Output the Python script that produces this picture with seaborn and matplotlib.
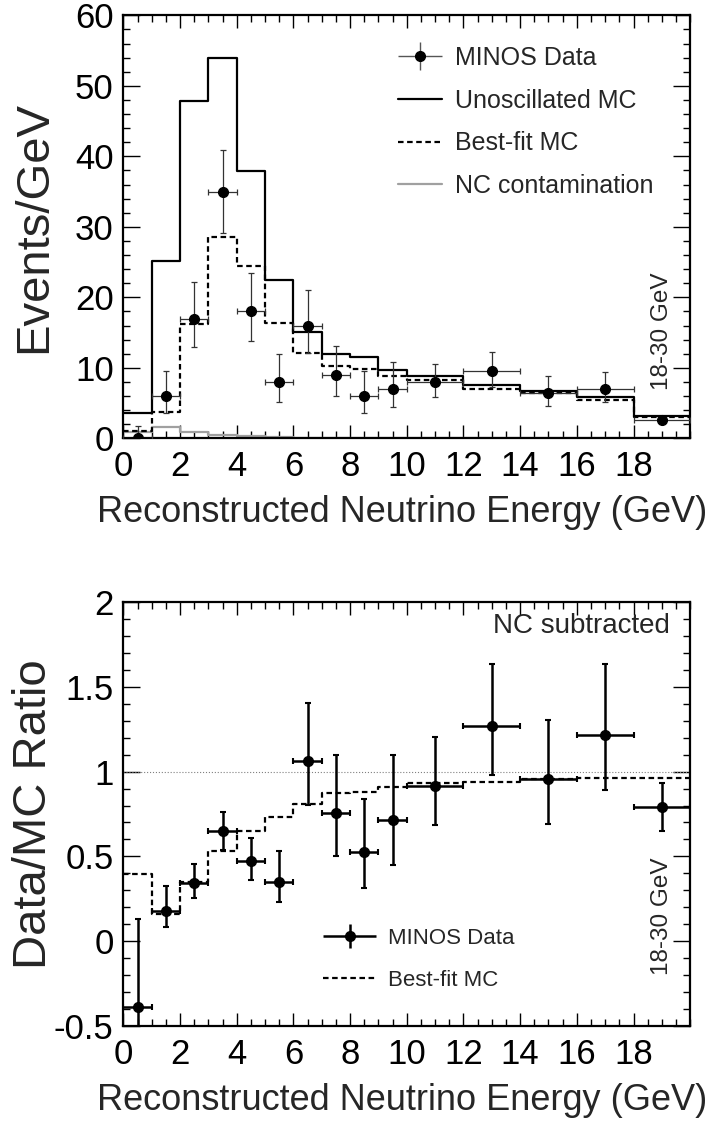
import matplotlib
matplotlib.use("Agg")
import matplotlib.pyplot as plt
from matplotlib.container import ErrorbarContainer
from matplotlib.legend_handler import HandlerErrorbar
from matplotlib.ticker import FixedLocator, MultipleLocator, FuncFormatter
import numpy as np
import seaborn as sns

# Binning (last bin is 18-30 GeV, drawn as 18-20)
bin_edges = [0, 1, 2, 3, 4, 5, 6, 7, 8, 9, 10, 12, 14, 16, 18, 20]

# Top panel: events / GeV
unosc_mc = [3.6, 25.2, 47.9, 53.9, 37.9, 22.4, 15.1, 12.0, 11.5, 9.7, 8.8, 7.5, 6.7, 5.8, 3.2]
bestfit_mc = [1.0, 3.8, 16.2, 28.5, 24.4, 16.4, 12.1, 10.2, 9.9, 8.8, 8.3, 7.0, 6.4, 5.5, 3.0]
nc_contam = [0.9, 1.6, 0.9, 0.5, 0.3, 0.25, 0.1, 0.1, 0.1, 0.1, 0.1, 0.1, 0.1, 0.1, 0.1]
data_y = [0.0, 6.0, 17.0, 35.0, 18.0, 8.0, 16.0, 9.0, 6.0, 7.0, 8.0, 9.5, 6.5, 7.0, 2.6]
data_up = [1.8, 3.6, 5.2, 5.9, 5.4, 3.9, 5.1, 4.1, 3.6, 3.8, 2.5, 2.7, 2.4, 2.4, 0.45]
data_lo = [0.0, 2.4, 4.1, 5.8, 4.2, 2.8, 3.9, 3.0, 2.4, 2.6, 2.1, 2.2, 1.9, 1.9, 0.45]

# Bottom panel: Data / MC ratio (NC subtracted)
ratio_y = [-0.39, 0.18, 0.345, 0.65, 0.47, 0.35, 1.065, 0.755, 0.525, 0.715, 0.915, 1.27, 0.955, 1.215, 0.79]
ratio_up = [0.52, 0.145, 0.11, 0.11, 0.14, 0.18, 0.34, 0.345, 0.315, 0.385, 0.29, 0.365, 0.35, 0.42, 0.14]
ratio_lo = [0.52, 0.095, 0.09, 0.11, 0.11, 0.12, 0.26, 0.25, 0.21, 0.265, 0.23, 0.29, 0.265, 0.325, 0.14]
bestfit_ratio = [0.396, 0.163, 0.347, 0.533, 0.652, 0.732, 0.807, 0.872, 0.882, 0.908, 0.935, 0.941, 0.957, 0.965, 0.965]

sns.set_theme(style="ticks")
plt.rcParams["font.family"] = ["Liberation Sans", "DejaVu Sans"]
plt.rcParams["axes.unicode_minus"] = False

edges = np.array(bin_edges, dtype=float)
half = np.diff(edges) / 2
centers = edges[:-1] + half
DASH = (0, (2.5, 1.6))


def steps(vals):
    return np.append(vals, vals[-1])


def root_style(ax, ymaj, ymin):
    ax.set_xlim(0, 20)
    ax.xaxis.set_major_locator(FixedLocator(list(range(0, 19, 2))))
    ax.xaxis.set_minor_locator(MultipleLocator(0.5))
    ax.yaxis.set_major_locator(MultipleLocator(ymaj))
    ax.yaxis.set_minor_locator(MultipleLocator(ymin))
    ax.yaxis.set_major_formatter(FuncFormatter(lambda v, p: f"{v:g}"))
    ax.tick_params(which="both", direction="in", top=True, right=True,
                   width=1.0, color="black", labelcolor="black")
    ax.tick_params(axis="y", which="major", length=12, labelsize=25, pad=7)
    ax.tick_params(axis="y", which="minor", length=5)
    ax.tick_params(axis="x", which="major", length=9.5, labelsize=25, pad=8.5)
    ax.tick_params(axis="x", which="minor", length=5)
    for s in ax.spines.values():
        s.set_linewidth(1.6)
        s.set_color("black")
    ax.grid(False)


def legend_errorbar(ax, ecolor, elw):
    # proxy without caps, only used for the legend entry
    return ax.errorbar([np.nan], [np.nan], xerr=[1], yerr=[1], fmt="o", color="black",
                       ecolor=ecolor, ms=7, elinewidth=elw, capsize=0)


fig = plt.figure(figsize=(7.13, 11.24), dpi=100)
ax1 = fig.add_axes([0.173, 0.610, 0.795, 0.3763])
ax2 = fig.add_axes([0.173, 0.0872, 0.795, 0.3772])

# ---------------- top panel ----------------
sns.lineplot(x=edges, y=steps(nc_contam), drawstyle="steps-post", color="#a0a0a0",
             lw=1.6, estimator=None, sort=False, ax=ax1)
sns.lineplot(x=edges, y=steps(unosc_mc), drawstyle="steps-post", color="black",
             lw=1.6, estimator=None, sort=False, ax=ax1)
sns.lineplot(x=edges, y=steps(bestfit_mc), drawstyle="steps-post", color="black",
             lw=1.6, ls=DASH, estimator=None, sort=False, ax=ax1)
ax1.errorbar(centers, data_y, xerr=half, yerr=[data_lo, data_up], fmt="o",
             color="black", ecolor="#333333", ms=7, elinewidth=0.9,
             capsize=2, capthick=0.9, zorder=5)
h_data = legend_errorbar(ax1, "#555555", 1.0)
h_unosc = plt.Line2D([], [], color="black", lw=1.6)
h_best = plt.Line2D([], [], color="black", lw=1.6, ls=DASH)
h_nc = plt.Line2D([], [], color="#a0a0a0", lw=1.6)
ax1.legend([h_data, h_unosc, h_best, h_nc],
           ["MINOS Data", "Unoscillated MC", "Best-fit MC", "NC contamination"],
           handler_map={ErrorbarContainer: HandlerErrorbar(xerr_size=0.88, yerr_size=0.56)},
           loc="center left", bbox_to_anchor=(0.485, 0.748), frameon=False,
           fontsize=18, handlelength=1.76, handletextpad=0.52, labelspacing=0.75,
           borderpad=0, borderaxespad=0)
ax1.set_ylim(0, 60)
root_style(ax1, 10, 2)
ax1.text(19.0, 15.2, "18-30 GeV", rotation=90, ha="center", va="center", fontsize=17.5)
ax1.set_ylabel("Events/GeV", fontsize=34)
ax1.yaxis.set_label_coords(-0.118, 0.5)
ax1.set_xlabel("Reconstructed Neutrino Energy (GeV)", fontsize=26)
ax1.xaxis.set_label_coords(0.492, -0.1336)

# ---------------- bottom panel ----------------
ax2.axhline(1, color="0.5", lw=0.8, ls=":")
sns.lineplot(x=edges, y=steps(bestfit_ratio), drawstyle="steps-post", color="black",
             lw=1.6, ls=DASH, estimator=None, sort=False, ax=ax2)
ax2.errorbar(centers, ratio_y, xerr=half, yerr=[ratio_lo, ratio_up], fmt="o",
             color="black", ms=7, elinewidth=1.8, capsize=2, capthick=1.5, zorder=5)
h_rdata = legend_errorbar(ax2, "black", 1.8)
ax2.legend([h_rdata, h_best], ["MINOS Data", "Best-fit MC"],
           handler_map={ErrorbarContainer: HandlerErrorbar(xerr_size=1.2, yerr_size=0.53)},
           loc="center left", bbox_to_anchor=(0.352, 0.157), frameon=False,
           fontsize=16, handlelength=2.4, handletextpad=0.55, labelspacing=0.95,
           borderpad=0, borderaxespad=0)
ax2.set_ylim(-0.5, 2)
root_style(ax2, 0.5, 0.1)
ax2.text(0.965, 0.943, "NC subtracted", transform=ax2.transAxes, ha="right",
         va="center", fontsize=20)
ax2.text(19.0, 0.148, "18-30 GeV", rotation=90, ha="center", va="center", fontsize=17.5)
ax2.set_ylabel("Data/MC Ratio", fontsize=34)
ax2.yaxis.set_label_coords(-0.118, 0.5)
ax2.set_xlabel("Reconstructed Neutrino Energy (GeV)", fontsize=26)
ax2.xaxis.set_label_coords(0.492, -0.1336)

fig.savefig("out.png", dpi=100)
